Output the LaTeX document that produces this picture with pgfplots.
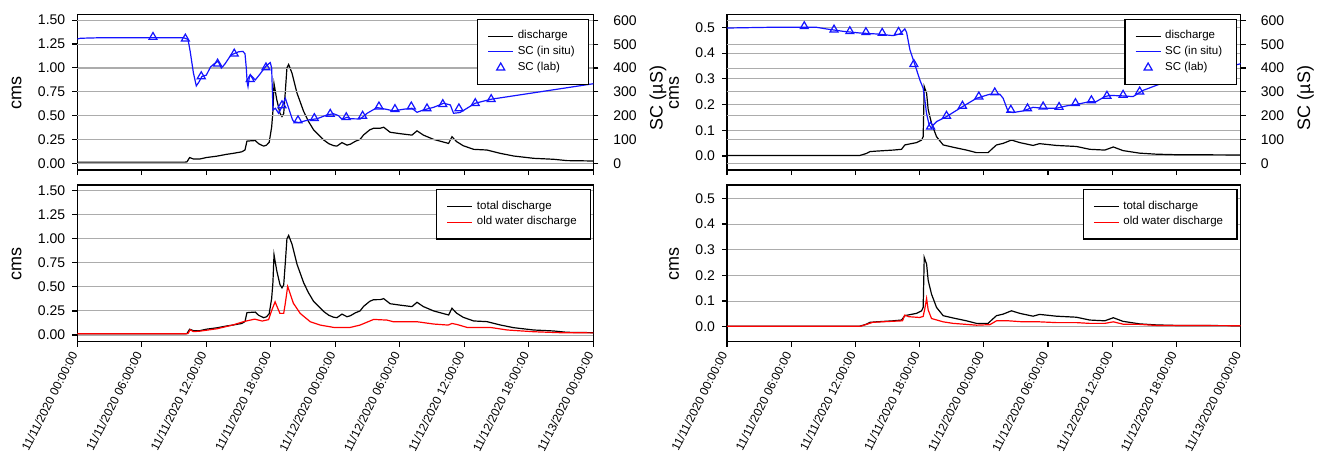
\documentclass[border=0pt]{standalone}
\usepackage{pgfplots}
\usepackage{pgfplotstable}
\pgfplotsset{compat=1.18}
\usepackage{fontspec}
\setmainfont{Liberation Sans}

\pgfplotstableread{
h q
0 0.012
10.0 0.012
10.2 0.015
10.45 0.06
10.8 0.045
11.4 0.045
12.0 0.06
13.0 0.075
13.9 0.094
14.5 0.104
15.3 0.12
15.6 0.14
15.78 0.232
16.1 0.235
16.56 0.238
16.87 0.205
17.33 0.18
17.6 0.19
17.85 0.22
18.08 0.38
18.2 0.55
18.3 0.835
18.55 0.67
18.85 0.525
19.04 0.49
19.2 0.52
19.35 0.75
19.5 1.0
19.66 1.035
19.97 0.945
20.44 0.735
21.05 0.545
21.5 0.44
21.98 0.35
22.6 0.28
22.91 0.245
23.4 0.205
23.84 0.185
24.15 0.18
24.62 0.217
25.09 0.19
25.4 0.2
25.86 0.23
26.3 0.25
26.63 0.297
27.2 0.35
27.56 0.367
28.2 0.368
28.5 0.378
29.1 0.325
30.05 0.31
31.13 0.295
31.6 0.34
32.2 0.295
33.15 0.25
34.54 0.208
34.85 0.278
35.3 0.226
35.9 0.184
36.87 0.146
38.1 0.139
39.35 0.104
40.6 0.076
42.45 0.052
44.3 0.042
45.55 0.028
48 0.024
}\QL

\pgfplotstableread{
h q
0 0.012
10.0 0.012
10.3 0.015
10.5 0.055
10.8 0.035
11.4 0.04
13.0 0.065
14.5 0.105
15.5 0.14
16.5 0.165
17.2 0.145
17.8 0.16
18.1 0.26
18.4 0.345
18.6 0.29
18.85 0.225
19.2 0.225
19.35 0.33
19.57 0.505
19.8 0.43
20.1 0.33
20.74 0.224
21.67 0.138
22.6 0.103
23.85 0.079
25.4 0.079
26.3 0.103
27.57 0.162
28.8 0.155
29.4 0.138
31.6 0.138
33.15 0.114
34.5 0.103
34.85 0.12
35.3 0.11
36.25 0.079
38.4 0.079
40.0 0.052
42.45 0.034
44.9 0.024
48 0.022
}\OL

\pgfplotstableread{
h sc
0 522
0.3 525
2 527
9.9 527
10.3 520
10.5 470
10.8 380
11.07 325
11.3 340
11.6 365
12.0 370
12.4 405
12.8 420
13.1 428
13.4 400
13.7 415
14.3 455
15.0 468
15.4 470
15.6 460
15.72 400
15.8 340
15.88 322
16.0 360
16.1 371
16.56 350
17.0 375
17.33 395
17.6 410
17.95 423
18.08 400
18.15 300
18.2 224
18.42 231
18.73 210
19.04 238
19.35 273
19.66 231
20.0 185
20.13 175
20.6 171
21.5 182
22.3 187
23.23 203
23.84 208
24.3 200
24.62 185
25.09 193
25.4 187
26.33 186
26.96 210
27.89 234
28.82 226
29.4 220
30.36 227
31.13 231
31.6 214
32.2 224
33.15 235
34.08 252
34.7 245
35.0 210
35.6 213
36.25 231
37.0 252
38.5 269
48 334
}\SCL

\pgfplotstableread{
h sc
7.04 530
10.05 523
11.53 365
13.05 418
14.6 460
16.09 353
17.55 402
19.04 243
20.53 180
22.05 189
23.53 207
25.02 193
26.54 199
28.06 238
29.55 227
31.07 238
32.53 230
34.0 248
35.5 230
37.02 252
38.5 269
}\LABL

\pgfplotstableread{
h q
0 0.002
12.4 0.002
12.57 0.004
13.04 0.01
13.35 0.017
13.97 0.019
15.53 0.023
16.31 0.026
16.62 0.043
17.09 0.047
17.71 0.052
18.18 0.062
18.33 0.075
18.43 0.27
18.65 0.244
18.8 0.18
19.11 0.127
19.58 0.075
20.2 0.043
21.13 0.034
22.38 0.023
23.31 0.013
24.4 0.013
24.7 0.025
25.18 0.043
25.8 0.049
26.58 0.062
27.36 0.052
28.6 0.041
29.2 0.048
30.78 0.041
32.65 0.037
33.89 0.026
35.3 0.023
36.1 0.035
37.0 0.021
38.56 0.011
40.12 0.007
41.98 0.005
48 0.004
}\QR

\pgfplotstableread{
h q
0 0.002
12.5 0.002
13.1 0.01
13.6 0.017
14.9 0.02
16.4 0.023
16.6 0.045
17.0 0.039
17.99 0.036
18.33 0.04
18.49 0.071
18.65 0.11
18.8 0.065
19.11 0.032
20.2 0.019
21.13 0.013
23.31 0.006
24.56 0.008
25.18 0.023
26.3 0.023
27.67 0.019
29.2 0.019
30.78 0.016
32.65 0.016
33.89 0.013
35.3 0.013
36.1 0.019
37.0 0.01
38.56 0.009
40.12 0.005
48 0.004
}\OR

\pgfplotstableread{
h sc
0 568
4.0 571
8.37 571
9.3 564
10.86 554
12.42 547
13.97 543
15.53 536
16.15 543
16.62 564
16.78 550
17.09 477
17.4 435
17.71 393
18.02 350
18.33 315
18.49 266
18.64 210
18.89 161
19.11 147
19.27 161
19.58 175
20.51 196
21.76 231
23.31 273
24.56 290
25.5 290
25.8 273
26.27 217
26.74 213
27.67 220
28.6 235
29.54 231
30.78 231
31.72 241
32.65 247
33.89 259
34.5 259
35.3 280
35.76 285
37.0 283
37.94 280
38.87 306
41.05 343
48 418
}\SCR

\pgfplotstableread{
h sc
7.22 575
10.0 561
11.48 554
12.98 550
14.5 547
16.03 551
17.46 416
19.02 154
20.51 199
22.0 241
23.53 280
25.02 297
26.52 224
28.08 230
29.54 238
31.03 236
32.56 252
34.05 264
35.5 283
37.01 287
38.56 301
}\LABR

\definecolor{scblue}{RGB}{20,20,255}

\pgfplotsset{
  legbox/.style={
    legend cell align=left,
    legend style={draw=black, fill=white, line width=0.6pt,
      font=\fontsize{5.75}{7.6}\selectfont,
      inner xsep=5pt, inner ysep=4.5pt,
      nodes={inner ysep=1.1pt}},
  },
  base/.style={
    scale only axis, anchor=south west,
    xmin=0, xmax=48, xtick={0,6,...,48},
    tick align=outside, major tick length=2.5pt,
    axis line style={line width=0.7pt},
    every tick/.style={black, line width=0.6pt},
    ymajorgrids, grid style={gray!65, line width=0.5pt},
    tick label style={font=\fontsize{7}{8}\selectfont},
    /pgf/number format/assume math mode=true,
    xtick pos=left, ytick pos=left,
    legbox,
  },
  rightax/.style={
    scale only axis, anchor=south west,
    xmin=0, xmax=48, axis x line=none, axis y line*=right,
    tick align=outside, major tick length=2.5pt,
    axis line style={line width=0.7pt},
    every tick/.style={black, line width=0.6pt},
    ymajorgrids, grid style={gray!65, line width=0.5pt},
    tick label style={font=\fontsize{7}{8}\selectfont},
    yticklabel style={xshift=4pt},
    /pgf/number format/assume math mode=true,
    ymin=-28.2, ymax=623.9, ytick={0,100,...,600},
    legbox,
    legend style={at={(1,1)}, anchor=north east, xshift=-2pt, yshift=-2pt},
  },
  datelabels/.style={
    xticklabels={11/11/2020 00:00:00, 11/11/2020 06:00:00, 11/11/2020 12:00:00, 11/11/2020 18:00:00, 11/12/2020 00:00:00, 11/12/2020 06:00:00, 11/12/2020 12:00:00, 11/12/2020 18:00:00, 11/13/2020 00:00:00},
    xticklabel style={rotate=63, anchor=east, font=\fontsize{6}{7}\selectfont},
  },
  two/.style={yticklabel style={/pgf/number format/.cd, fixed, fixed zerofill, precision=2}},
  one/.style={yticklabel style={/pgf/number format/.cd, fixed, fixed zerofill, precision=1}},
  blackleg/.style={legend image code/.code={\draw[black, line width=0.6pt] (0pt,0pt) -- (12.5pt,0pt);}},
  blueleg/.style={legend image code/.code={\draw[scblue, line width=0.6pt] (0pt,0pt) -- (12.5pt,0pt);}},
  redleg/.style={legend image code/.code={\draw[red, line width=0.6pt] (0pt,0pt) -- (12.5pt,0pt);}},
  markleg/.style={legend image code/.code={\draw[scblue, line width=0.6pt] (6.25pt,2.3pt) -- (4.26pt,-1.15pt) -- (8.24pt,-1.15pt) -- cycle;}},
}

\begin{document}
\begin{tikzpicture}
% ---------- left top ----------
\begin{axis}[base, two, at={(38.65pt,-85pt)}, width=258pt, height=77.65pt,
  ymin=-0.0705, ymax=1.557, ytick={0,0.25,0.5,0.75,1,1.25,1.5}, xticklabels={}]
\addplot[black, line width=0.6pt] table[x=h,y=q] {\QL};
\end{axis}
\begin{axis}[rightax, at={(38.65pt,-85pt)}, width=258pt, height=77.65pt]
\addlegendimage{blackleg}\addlegendentry{discharge}
\addplot[scblue, line width=0.6pt, blueleg] table[x=h,y=sc] {\SCL};
\addlegendentry{SC (in situ)}
\addplot[scblue, only marks, mark=triangle, mark size=2.3pt, mark options={line width=0.6pt}, markleg] table[x=h,y=sc] {\LABL};
\addlegendentry{SC (lab)}
\end{axis}
% ---------- left bottom ----------
\begin{axis}[base, two, datelabels, at={(38.65pt,-170.85pt)}, width=258pt, height=78.35pt,
  ymin=-0.0697, ymax=1.559, ytick={0,0.25,0.5,0.75,1,1.25,1.5},
  legend style={at={(1,1)}, anchor=north east, xshift=-1pt, yshift=-2pt}]
\addplot[black, line width=0.6pt, blackleg] table[x=h,y=q] {\QL};
\addlegendentry{total discharge}
\addplot[red, line width=0.6pt, redleg] table[x=h,y=q] {\OL};
\addlegendentry{old water discharge}
\end{axis}
% ---------- right top ----------
\begin{axis}[base, one, at={(363.5pt,-85pt)}, width=256.85pt, height=77.65pt,
  ymin=-0.0545, ymax=0.5493, ytick={0,0.1,0.2,0.3,0.4,0.5}, xticklabels={}]
\addplot[black, line width=0.6pt] table[x=h,y=q] {\QR};
\end{axis}
\begin{axis}[rightax, at={(363.5pt,-85pt)}, width=256.85pt, height=77.65pt]
\addlegendimage{blackleg}\addlegendentry{discharge}
\addplot[scblue, line width=0.6pt, blueleg] table[x=h,y=sc] {\SCR};
\addlegendentry{SC (in situ)}
\addplot[scblue, only marks, mark=triangle, mark size=2.3pt, mark options={line width=0.6pt}, markleg] table[x=h,y=sc] {\LABR};
\addlegendentry{SC (lab)}
\end{axis}
% ---------- right bottom ----------
\begin{axis}[base, one, datelabels, at={(363.5pt,-170.85pt)}, width=256.85pt, height=78.35pt,
  ymin=-0.0584, ymax=0.552, ytick={0,0.1,0.2,0.3,0.4,0.5},
  legend style={at={(1,1)}, anchor=north east, xshift=-1.5pt, yshift=-2pt}]
\addplot[black, line width=0.6pt, blackleg] table[x=h,y=q] {\QR};
\addlegendentry{total discharge}
\addplot[red, line width=0.6pt, redleg] table[x=h,y=q] {\OR};
\addlegendentry{old water discharge}
\end{axis}
% ---------- axis titles ----------
\node[rotate=90, font=\fontsize{9}{10}\selectfont] at (8.25pt,-46.25pt) {cms};
\node[rotate=90, font=\fontsize{9}{10}\selectfont] at (8.25pt,-131.75pt) {cms};
\node[rotate=90, font=\fontsize{9}{10}\selectfont] at (337pt,-46.25pt) {cms};
\node[rotate=90, font=\fontsize{9}{10}\selectfont] at (337pt,-131.75pt) {cms};
\node[rotate=90, font=\fontsize{9}{10}\selectfont] at (329pt,-49pt) {SC (µS)};
\node[rotate=90, font=\fontsize{9}{10}\selectfont] at (652.75pt,-49pt) {SC (µS)};
\pgfresetboundingbox
\path (0pt,0pt) rectangle (662pt,-228pt);
\end{tikzpicture}
\end{document}
